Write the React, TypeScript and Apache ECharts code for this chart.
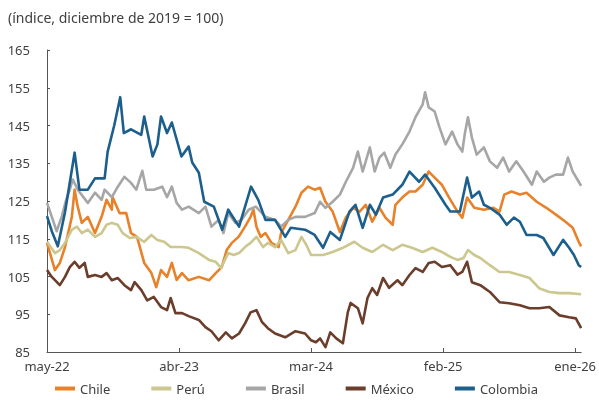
import React, { useEffect, useRef } from "react";
import * as echarts from "echarts";

// x = months elapsed since May 2022
const tickMonths = [0, 11, 22, 33, 44];
const tickLabels = ["may-22", "abr-23", "mar-24", "feb-25", "ene-26"];
const seriesNames = ["Chile", "Perú", "Brasil", "México", "Colombia"];
const title = "(índice, diciembre de 2019 = 100)";

const chile: [number, number][] = [
  [0, 113.9], [0.66, 106.7], [1.07, 108.6], [1.5, 112.8], [2.07, 120.8], [2.3, 128], [2.56, 123.5],
  [2.9, 119.2], [3.4, 120.8], [4, 116.5], [4.55, 120.8], [4.96, 125.3], [5.4, 122.7], [5.45, 126.1],
  [6.04, 121.8], [6.6, 121.8], [7, 116.5], [7.5, 115.5], [8.1, 108.6], [8.7, 105.9], [9.1, 102.2],
  [9.5, 106.7], [10, 104.9], [10.4, 108.6], [10.8, 104.1], [11.25, 105.9], [11.8, 104], [12.65, 104.9],
  [13.5, 104], [14.06, 105.9], [14.56, 107.5], [14.97, 112], [15.4, 113.9], [15.96, 115.5], [16.5, 118.2],
  [16.96, 120.8], [17.2, 122.7], [17.45, 118.2], [17.8, 115.5], [18.2, 116.5], [18.7, 113.9], [19.3, 112.8],
  [19.5, 116.5], [20.1, 120], [20.7, 123.5], [21.2, 127.2], [21.75, 128.8], [22.3, 128], [22.75, 128.5],
  [23.2, 124.8], [23.8, 122.2], [24.4, 116.8], [24.9, 120.6], [25.5, 123.2], [26.05, 122.2], [26.55, 124],
  [27.1, 119.5], [27.7, 123.2], [28.2, 120.6], [28.8, 118.7], [29.03, 124], [29.6, 125.9], [30.2, 127.5],
  [30.7, 127.5], [31.3, 129.3], [31.8, 132.8], [32.3, 131.2], [32.9, 129.3], [33.5, 125.9], [34.2, 122.2],
  [34.6, 120.6], [35, 125.9], [35.6, 123.2], [36.4, 122.7], [37.2, 123.2], [37.7, 122.2], [38.1, 126.7],
  [38.7, 127.5], [39.4, 126.7], [39.95, 127.2], [40.8, 124.8], [41.6, 123.2], [42.4, 121.4], [43.2, 119.5],
  [43.8, 117.9], [44.3, 114.2], [44.5, 113],
];

const peru: [number, number][] = [
  [0, 114.2], [0.66, 111.2], [1.07, 112], [1.5, 113.9], [2.07, 117.4], [2.5, 118.2], [2.9, 116.5],
  [3.4, 117.4], [4, 115.5], [4.55, 116.5], [4.96, 118.7], [5.4, 119.2], [5.9, 118.7], [6.3, 116.5],
  [6.9, 115.2], [7.44, 115.5], [8.1, 114.2], [8.7, 116], [9.2, 114.7], [9.76, 114.2], [10.3, 112.8],
  [11.2, 112.8], [11.8, 112.6], [12.65, 111.2], [13.5, 109.4], [14.06, 108.9], [14.5, 107.3], [14.7, 108.6],
  [15.1, 111.2], [15.55, 110.7], [16, 111.2], [16.5, 112.8], [16.96, 113.9], [17.45, 115.5], [18, 112.8],
  [18.4, 113.9], [19, 112.8], [19.5, 114.7], [20.1, 111.2], [20.7, 112], [21.2, 115.5], [21.6, 113.4],
  [22, 110.7], [23, 110.7], [23.8, 111.5], [24.65, 112.6], [25.6, 114.2], [26.3, 112.6], [27.1, 111.5],
  [28, 113.4], [28.8, 112], [29.6, 113.4], [30.4, 112.6], [31.3, 111.5], [32.1, 112.6], [32.9, 111.5],
  [33.6, 110.2], [34.2, 109.4], [34.7, 109.9], [35.07, 112], [35.6, 110.7], [36.1, 109.9], [36.9, 108],
  [37.7, 106.2], [38.5, 106.2], [39.4, 105.4], [40.2, 104.6], [41, 101.9], [41.85, 100.9], [42.7, 100.6],
  [43.5, 100.6], [44.5, 100.3],
];

const brasil: [number, number][] = [
  [0, 124.5], [0.4, 120.8], [0.8, 117], [1.24, 121], [1.57, 125], [1.9, 128], [2.15, 130.7], [2.56, 128],
  [3.4, 124.5], [4, 127.2], [4.55, 125.3], [4.8, 128], [5.4, 126], [5.9, 128.8], [6.45, 131.4], [7, 129.8],
  [7.44, 128], [7.94, 133], [8.27, 128], [8.9, 128], [9.6, 128.8], [10, 126], [10.4, 128.8], [10.8, 124.5],
  [11.25, 122.7], [11.8, 123.5], [12.65, 121.8], [13.2, 123.5], [13.7, 118.2], [14.3, 120], [14.7, 116.5],
  [15.1, 121.8], [15.7, 119.2], [16.2, 120], [16.8, 122.7], [17.4, 123.5], [18.2, 120.8], [19, 120],
  [19.5, 118.2], [20.1, 120], [20.7, 120.8], [21.5, 120.8], [22.3, 121.8], [22.75, 124.8], [23.2, 123.2],
  [23.8, 124.8], [24.4, 126.7], [24.9, 130.1], [25.5, 133.8], [25.9, 138.1], [26.3, 132.8], [26.9, 139.2],
  [27.3, 132.8], [27.7, 136.5], [28.1, 137.8], [28.6, 133.8], [29.03, 137.3], [29.6, 140], [30.2, 143.4],
  [30.7, 147.2], [31.3, 150.6], [31.5, 153.8], [31.8, 149.8], [32.3, 148.7], [32.7, 144.5], [33.2, 140],
  [33.75, 143.4], [34.2, 140], [34.6, 138.1], [34.8, 142.6], [35.07, 147.2], [35.4, 141.8], [35.8, 137.3],
  [36.4, 139.2], [36.9, 135.5], [37.5, 133.8], [38, 136.5], [38.5, 132.8], [39.1, 135.5], [39.7, 132.8],
  [40.4, 129.3], [40.8, 132.8], [41.4, 130.1], [41.85, 131.2], [42.4, 132], [43, 132], [43.4, 136.5],
  [43.8, 132.8], [44.3, 130.1], [44.5, 129],
];

const mexico: [number, number][] = [
  [0, 106.7], [0.4, 104.9], [1.07, 102.7], [1.5, 104.9], [1.9, 107.5], [2.3, 108.9], [2.7, 107.3],
  [3.14, 108.6], [3.4, 104.9], [4, 105.4], [4.55, 104.9], [4.96, 105.9], [5.4, 104], [5.9, 104.6],
  [6.45, 102.7], [7, 101.4], [7.3, 103.5], [7.86, 101.4], [8.35, 98.7], [8.9, 99.6], [9.5, 96.9], [10, 96.1],
  [10.3, 99.3], [10.7, 95.3], [11.25, 95.3], [11.8, 94.5], [12.65, 93.5], [13.2, 91.6], [13.7, 90.5],
  [14.3, 88.1], [14.9, 90.2], [15.4, 88.6], [16, 89.9], [16.5, 92.6], [16.96, 95.5], [17.45, 96.1],
  [17.9, 93], [18.4, 91.3], [19, 89.9], [19.85, 88.9], [20.7, 90.5], [21.5, 89.9], [22, 88.1], [22.4, 87.6],
  [22.75, 88.6], [23.2, 86.3], [23.6, 90.2], [24.1, 88.6], [24.65, 87.3], [25.06, 95.5], [25.3, 98],
  [25.9, 96.6], [26.3, 92.6], [26.7, 99.3], [27.1, 101.9], [27.5, 100.1], [28, 104.6], [28.5, 102],
  [29.2, 104], [29.6, 102.7], [30.2, 105.4], [30.7, 107.2], [31.3, 106.2], [31.8, 108.6], [32.3, 108.9],
  [32.9, 107.5], [33.6, 108], [34.2, 105.5], [34.6, 106.2], [35, 108.9], [35.4, 103.5], [36.1, 102.7],
  [36.9, 100.9], [37.7, 98.2], [38.5, 97.9], [39.4, 97.4], [40.2, 96.6], [41, 96.6], [41.85, 96.9],
  [42.7, 94.7], [43.5, 94.2], [44.06, 93.9], [44.5, 91.3],
];

const colombia: [number, number][] = [
  [0, 121], [0.4, 117], [0.9, 113], [1.5, 122], [2.3, 137.8], [2.7, 128], [3.4, 128], [4, 131], [4.8, 131],
  [5.05, 138], [5.6, 145], [6.1, 152.5], [6.4, 143], [7, 144], [7.85, 142.5], [8.1, 147.4], [8.8, 136.8],
  [9.2, 140], [9.5, 147.4], [10, 143], [10.4, 145.8], [11.2, 136.8], [11.8, 139.4], [12.1, 135.2],
  [12.65, 132.5], [13.1, 124.8], [13.9, 123.5], [14.6, 117.4], [15.1, 122.7], [16, 118.2], [17, 128.8],
  [17.6, 125.3], [18.2, 120], [19, 120], [19.85, 115.5], [20.3, 117.9], [21.5, 117.4], [22.3, 116],
  [23, 112.6], [23.6, 116.8], [24.4, 114.7], [25.2, 122.2], [25.7, 124], [26.3, 117.9], [26.9, 124],
  [27.4, 121.4], [28, 125.9], [28.8, 126.7], [29.6, 129.3], [30.2, 132.8], [31, 130.1], [31.5, 132],
  [32.3, 128.5], [33.2, 124], [33.6, 122.2], [34.4, 122.2], [35, 131.2], [35.4, 125.9], [36, 127.5],
  [36.4, 124], [36.9, 123.2], [37.7, 121.4], [38.3, 118.7], [38.9, 120.6], [39.4, 119.5], [39.95, 116],
  [40.8, 116], [41.35, 115.2], [42.2, 110.7], [43, 114.7], [43.5, 112.6], [43.9, 110.7], [44.3, 108],
  [44.5, 107.5],
];

const seriesData = [chile, peru, brasil, mexico, colombia];
const colors = ["#E8822A", "#CBC78E", "#A6A6A6", "#6B3D2B", "#1C5F8D"];

const FONT = "'Noto Sans', sans-serif";
const TEXT = "#404040";

export default function App() {
  const ref = useRef<HTMLDivElement>(null);
  useEffect(() => {
    if (!ref.current) return;
    const chart = echarts.init(ref.current, undefined, { renderer: "svg" });
    chart.setOption({
      animation: false,
      textStyle: { fontFamily: FONT },
      title: {
        text: title,
        left: 3,
        top: 5,
        textStyle: { fontSize: 14, fontWeight: "normal", color: TEXT, fontFamily: FONT },
      },
      legend: {
        top: 382,
        left: 55,
        itemWidth: 20,
        itemHeight: 4,
        itemGap: 41,
        icon: "rect",
        padding: 0,
        textStyle: { fontSize: 13, color: TEXT, fontFamily: FONT },
        data: seriesNames,
      },
      grid: { left: 47, right: 14, top: 50, bottom: 48, containLabel: false },
      xAxis: {
        type: "value",
        min: 0,
        max: 44.5,
        interval: 11,
        splitLine: { show: false },
        axisLine: { show: true, lineStyle: { color: "#555", width: 1 } },
        axisTick: { show: true, inside: true, length: 4, lineStyle: { color: "#555" }, customValues: tickMonths },
        axisLabel: {
          customValues: tickMonths,
          formatter: (v: number) => {
            const i = tickMonths.indexOf(Math.round(v));
            return i >= 0 ? tickLabels[i] : "";
          },
          fontSize: 13,
          color: TEXT,
          margin: 7,
          fontFamily: FONT,
        },
      },
      yAxis: {
        type: "value",
        min: 85,
        max: 165,
        interval: 10,
        splitLine: { show: false },
        axisLine: { show: true, lineStyle: { color: "#555", width: 1 } },
        axisTick: { show: true, inside: true, length: 3, lineStyle: { color: "#555" } },
        axisLabel: { fontSize: 13, color: TEXT, margin: 17, fontFamily: FONT },
      },
      series: seriesNames.map((name, i) => ({
        name,
        type: "line",
        data: seriesData[i],
        showSymbol: false,
        symbol: "none",
        lineStyle: { width: 2.6, color: colors[i], join: "round" },
        itemStyle: { color: colors[i] },
      })),
    });
    return () => chart.dispose();
  }, []);
  return <div ref={ref} style={{ position: "fixed", left: 0, top: 0, width: 599, height: 400 }} />;
}
